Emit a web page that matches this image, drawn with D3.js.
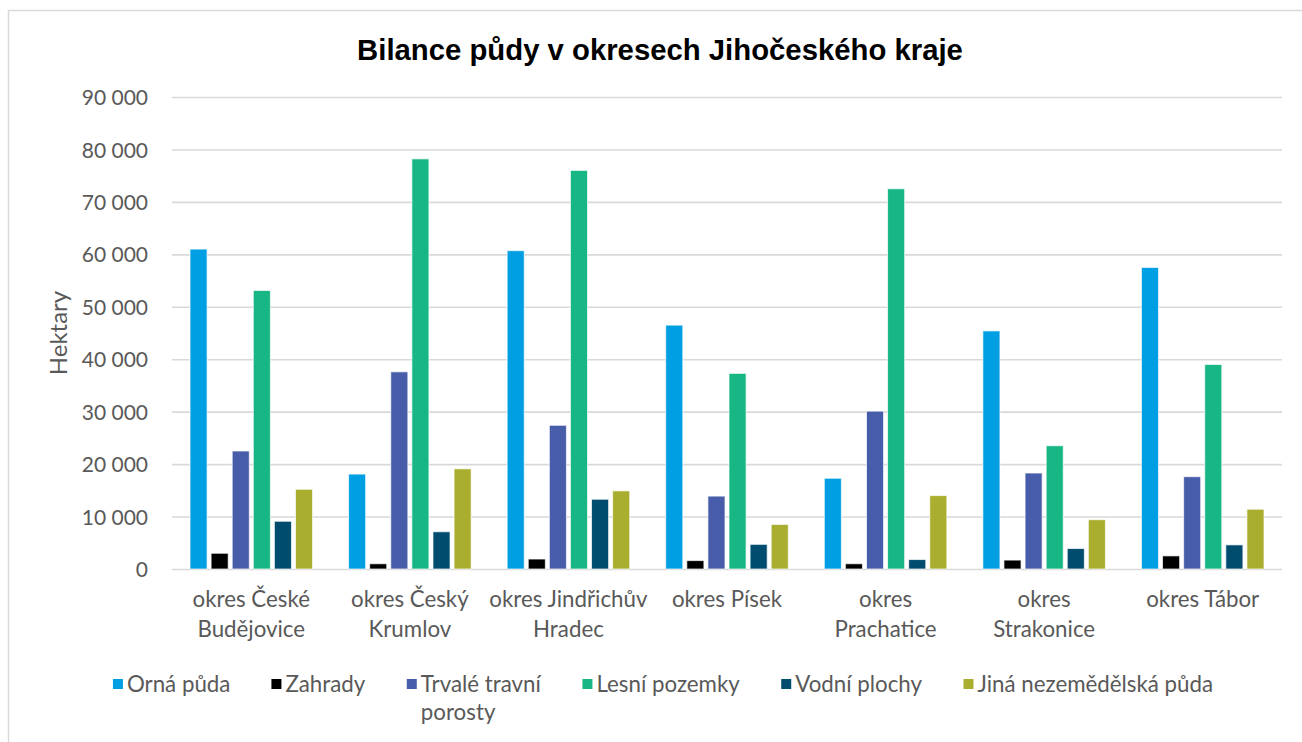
<!DOCTYPE html>
<html lang="cs">
<head>
<meta charset="utf-8">
<script src="https://cdn.jsdelivr.net/npm/d3@7"></script>
<style>
  html, body { margin: 0; padding: 0; background: #fff; }
  svg { display: block; }
</style>
</head>
<body>
<svg id="chart" width="1302" height="742"></svg>
<script>
// Land balance of the South Bohemian districts (hectares)
const categories = [
  "okres České\nBudějovice",
  "okres Český\nKrumlov",
  "okres Jindřichův\nHradec",
  "okres Písek",
  "okres\nPrachatice",
  "okres\nStrakonice",
  "okres Tábor"
];

const seriesNames = [
  "Orná půda",
  "Zahrady",
  "Trvalé travní porosty",
  "Lesní pozemky",
  "Vodní plochy",
  "Jiná nezemědělská půda"
];

const ornaPuda         = [61000, 18100, 60700, 46500, 17300, 45400, 57500];
const zahrady          = [3000, 1000, 1900, 1600, 1000, 1700, 2500];
const trvaleTravni     = [22500, 37600, 27400, 13900, 30100, 18300, 17600];
const lesniPozemky     = [53100, 78200, 76000, 37300, 72500, 23500, 39000];
const vodniPlochy      = [9100, 7100, 13300, 4700, 1800, 3900, 4600];
const jinaNezemedelska = [15200, 19100, 14900, 8500, 14000, 9400, 11400];

const seriesValues = [ornaPuda, zahrady, trvaleTravni, lesniPozemky, vodniPlochy, jinaNezemedelska];
const seriesColors = ["#009fe3", "#000000", "#485da9", "#17b684", "#004c6e", "#a9ae2f"];

const yTicks = [0, 10000, 20000, 30000, 40000, 50000, 60000, 70000, 80000, 90000];
const yTitle = "Hektary";
const chartTitle = "Bilance půdy v okresech Jihočeského kraje";

const svg = d3.select("#chart");
const font = "Lato, 'Open Sans', sans-serif";
const textGrey = "#595959";

// chart frame
svg.append("rect")
  .attr("x", 8.5).attr("y", 10.5)
  .attr("width", 1320).attr("height", 760)
  .attr("fill", "#fff").attr("stroke", "#d9d9d9").attr("stroke-width", 1.5);

const plot = { left: 172, right: 1282, top: 97, bottom: 569 };

const x0 = d3.scaleBand()
  .domain(categories)
  .range([plot.left, plot.right])
  .paddingInner(0).paddingOuter(0);

const groupMargin = 18;
const x1 = d3.scaleBand()
  .domain(d3.range(seriesNames.length))
  .range([groupMargin, x0.bandwidth() - groupMargin])
  .paddingInner(0.19).paddingOuter(0);

const y = d3.scaleLinear()
  .domain([0, 90000])
  .range([plot.bottom, plot.top]);

// gridlines + tick labels
const yAxis = d3.axisLeft(y)
  .tickValues(yTicks)
  .tickSize(-(plot.right - plot.left))
  .tickPadding(24)
  .tickFormat(d => d3.format(",")(d).replace(/,/g, " "));

const gy = svg.append("g")
  .attr("transform", `translate(${plot.left},0)`)
  .call(yAxis);
gy.select(".domain").remove();
gy.selectAll(".tick line").attr("stroke", "#d9d9d9").attr("stroke-width", 1.6);
gy.selectAll(".tick text")
  .attr("fill", textGrey)
  .style("font-family", font)
  .style("font-size", "21px")
  .attr("dy", "0.36em");

// bars
const groups = svg.append("g").selectAll("g")
  .data(categories)
  .join("g")
  .attr("transform", d => `translate(${x0(d)},0)`);

groups.selectAll("rect")
  .data((d, ci) => seriesValues.map((vals, si) => ({ si, v: vals[ci] })))
  .join("rect")
  .attr("x", d => x1(d.si))
  .attr("width", x1.bandwidth())
  .attr("y", d => y(d.v))
  .attr("height", d => y(0) - y(d.v))
  .attr("fill", d => seriesColors[d.si])
  .attr("stroke", "#ffffff")
  .attr("stroke-opacity", 0.7)
  .attr("stroke-width", 1);

// category labels
const catLabels = svg.append("g").selectAll("text")
  .data(categories)
  .join("text")
  .attr("x", d => x0(d) + x0.bandwidth() / 2)
  .attr("y", 607)
  .attr("text-anchor", "middle")
  .attr("fill", textGrey)
  .style("font-family", font)
  .style("font-size", "22.3px");
catLabels.each(function(d) {
  const t = d3.select(this);
  d.split("\n").forEach((line, i) => {
    t.append("tspan")
      .attr("x", x0(d) + x0.bandwidth() / 2)
      .attr("dy", i === 0 ? 0 : 29.5)
      .text(line);
  });
});

// y axis title
svg.append("text")
  .attr("transform", `translate(67,${(plot.top + plot.bottom) / 2}) rotate(-90)`)
  .attr("text-anchor", "middle")
  .attr("fill", textGrey)
  .style("font-family", font)
  .style("font-size", "24px")
  .text(yTitle);

// title
svg.append("text")
  .attr("x", 660)
  .attr("y", 60)
  .attr("text-anchor", "middle")
  .attr("fill", "#000")
  .style("font-family", "'Liberation Sans', Arial, sans-serif")
  .style("font-weight", "bold")
  .style("font-size", "29.3px")
  .text(chartTitle);

// legend
const legend = svg.append("g");
const legendWrap = 160;
const legendGap = 41;
const swatch = 10;
const textOffset = 14;
const items = [];
seriesNames.forEach((name, i) => {
  const g = legend.append("g");
  g.append("rect")
    .attr("y", 679).attr("width", swatch).attr("height", swatch)
    .attr("fill", seriesColors[i]);
  const t = g.append("text")
    .attr("x", textOffset).attr("y", 692)
    .attr("fill", textGrey)
    .style("font-family", font)
    .style("font-size", "22.3px");
  // wrap long labels onto a second line
  const words = name.split(" ");
  let line = [];
  let tspan = t.append("tspan").attr("x", textOffset).attr("dy", 0);
  words.forEach(w => {
    line.push(w);
    tspan.text(line.join(" "));
    if (tspan.node().getComputedTextLength() > legendWrap && line.length > 1 && name.length < 22) {
      line.pop();
      tspan.text(line.join(" "));
      line = [w];
      tspan = t.append("tspan").attr("x", textOffset).attr("dy", 28).text(w);
    }
  });
  items.push({ g, w: textOffset + t.node().getBBox().width });
});
const totalW = d3.sum(items, d => d.w) + legendGap * (items.length - 1);
let lx = 663 - totalW / 2;
items.forEach(it => {
  it.g.attr("transform", `translate(${lx},0)`);
  lx += it.w + legendGap;
});
</script>
</body>
</html>
